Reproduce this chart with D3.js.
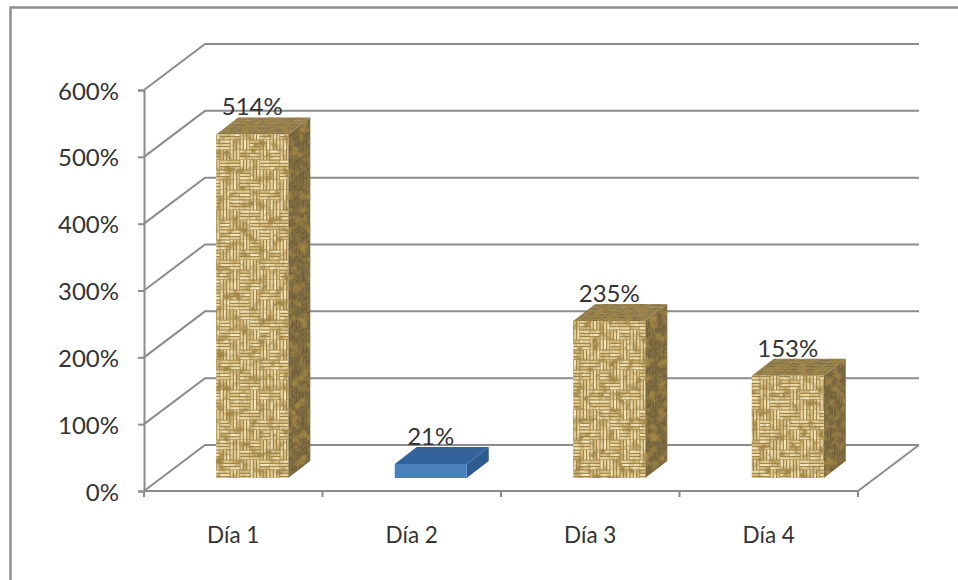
<!DOCTYPE html>
<html lang="es">
<head>
<meta charset="utf-8">
<title>Porcentaje por día</title>
<script src="https://cdnjs.cloudflare.com/ajax/libs/d3/7.8.5/d3.min.js"></script>
<style>
  html, body { margin: 0; padding: 0; background: #fff; }
  svg { display: block; }
  text { font-family: Lato, "Open Sans", sans-serif; fill: #333; }
</style>
</head>
<body>
<svg id="chart" width="958" height="580"></svg>
<script>
// Chart values
const categories = ["Día 1", "Día 2", "Día 3", "Día 4"];
const values = [514, 21, 235, 153];
const tickValues = [0, 100, 200, 300, 400, 500, 600];
const plainCategories = ["Día 2"];

// Weave layout: H = horizontal strands, V = vertical strands
const weaveRows = [
  "VVHHVHHVV",
  "VHHVVVHHV",
  "HHVVHVVHH",
  "VHHVHHVVH",
  "VVHHHVVHV",
  "HVVHVVHHV",
  "HHVVHHVVH",
  "VHVHHVHVV",
  "VVHHVVHHV",
  "HVVHVHHVH"
];
const strawTones = ["#f3e6bb", "#e3cd95", "#efdeae", "#d8bf84", "#ead7a2"];

const width = 958, height = 580;
const floorDx = 61, floorDy = 46;      // depth of the chart box
const barDx = 22, barDy = 17;          // depth of one bar
const barInsetX = 19, barInsetY = 13;  // bar offset from the front of the floor
const grey = "#8c8c8c";

const x = d3.scaleBand().domain(categories).range([144, 858]).paddingInner(0).paddingOuter(0);
const y = d3.scaleLinear().domain([0, 600]).range([491, 90]);
const barWidth = 72;

const svg = d3.select("#chart");
const defs = svg.append("defs");

// Straw texture tile, reused by every face of the woven bars
function weavePattern(id, transform, shade, shadeOpacity) {
  const block = 10, pitch = block / 3;
  const tileW = block * weaveRows[0].length, tileH = block * weaveRows.length;
  const p = defs.append("pattern")
    .attr("id", id)
    .attr("patternUnits", "userSpaceOnUse")
    .attr("width", tileW).attr("height", tileH)
    .attr("patternTransform", transform);
  p.append("rect").attr("width", tileW).attr("height", tileH).attr("fill", "#97793a");
  weaveRows.forEach((row, r) => {
    row.split("").forEach((o, c) => {
      d3.range(3).forEach(s => {
        const tone = strawTones[(r * 3 + c * 2 + s) % strawTones.length];
        const across = 2.3;
        const ox = c * block + (o === "V" ? s * pitch + 0.5 : 0);
        const oy = r * block + (o === "H" ? s * pitch + 0.5 : 0);
        // Strands run the full block so neighbouring blocks join into longer runs
        p.append("rect")
          .attr("x", ox).attr("y", oy)
          .attr("width", o === "H" ? block - 0.3 : across)
          .attr("height", o === "H" ? across : block - 0.3)
          .attr("fill", tone);
      });
    });
  });
  if (shadeOpacity > 0) {
    p.append("rect").attr("width", tileW).attr("height", tileH)
      .attr("fill", shade).attr("opacity", shadeOpacity);
  }
}
weavePattern("weaveFront", null, "#000", 0);
weavePattern("weaveSide", "matrix(0.42,-0.33,0,0.72,0,0)", "#35260a", 0.55);
weavePattern("weaveTop", "matrix(0.72,0,-0.58,0.46,0,0)", "#42310f", 0.42);

// Soft mottling over the straw
const mottle = defs.append("filter").attr("id", "mottle")
  .attr("x", 0).attr("y", 0).attr("width", 1).attr("height", 1);
mottle.append("feGaussianBlur").attr("in", "SourceGraphic").attr("stdDeviation", 0.75).attr("result", "soft");
mottle.append("feTurbulence").attr("type", "fractalNoise").attr("baseFrequency", 0.12)
  .attr("numOctaves", 3).attr("seed", 7).attr("result", "noise");
mottle.append("feColorMatrix").attr("in", "noise").attr("type", "matrix")
  .attr("values", "0 0 0 0 0.36  0 0 0 0 0.24  0 0 0 0 0.06  3 0 0 0 -1.35")
  .attr("result", "stain");
mottle.append("feComposite").attr("in", "stain").attr("in2", "soft").attr("operator", "in").attr("result", "clipped");
const merge = mottle.append("feMerge");
merge.append("feMergeNode").attr("in", "soft");
merge.append("feMergeNode").attr("in", "clipped");

// Outer frame: open at the right and bottom edges of the page
svg.append("path")
  .attr("d", d3.line()([[10.5, height], [10.5, 7.5], [width, 7.5]]))
  .attr("fill", "none").attr("stroke", grey).attr("stroke-width", 2.4);

// Back wall gridlines with the diagonals running along the side wall
const walls = svg.append("g").attr("fill", "none").attr("stroke", grey).attr("stroke-width", 2);
walls.selectAll(".grid").data(tickValues).join("path")
  .attr("class", "grid")
  .attr("d", v => d3.line()([
    [x.range()[0], y(v)],
    [x.range()[0] + floorDx, y(v) - floorDy],
    [x.range()[1] + floorDx, y(v) - floorDy]
  ]));

// Front edge and right edge of the floor
walls.append("path").attr("d", d3.line()([
  [x.range()[0], y(0)],
  [x.range()[1], y(0)],
  [x.range()[1] + floorDx, y(0) - floorDy]
]));

// Value axis
const yAxis = d3.axisLeft(y).tickValues(tickValues).tickFormat(d => d + "%").tickSize(6).tickPadding(19);
const yG = svg.append("g").attr("transform", `translate(${x.range()[0]},0)`).call(yAxis);
yG.selectAll("path, line").attr("stroke", grey).attr("stroke-width", 2);
yG.selectAll("text").attr("font-size", 24).attr("dy", "0.38em").style("font-family", "Lato, sans-serif").attr("fill", "#333");

// Category axis: ticks sit on the band boundaries
const xAxis = svg.append("g").attr("stroke", grey).attr("stroke-width", 2);
const bandEdges = categories.map(c => x(c)).concat(x.range()[1]);
xAxis.selectAll("line").data(bandEdges).join("line")
  .attr("x1", d => d).attr("x2", d => d)
  .attr("y1", y(0)).attr("y2", y(0) + 6);
svg.append("g").selectAll("text").data(categories).join("text")
  .attr("x", d => x(d) + x.bandwidth() / 2)
  .attr("y", 543)
  .attr("text-anchor", "middle")
  .attr("font-size", 22.5)
  .text(d => d);

// Bars: front, side and top faces
const bars = svg.append("g").selectAll("g").data(categories.map((c, i) => ({ c, v: values[i] }))).join("g");
const barLeft = d => x(d.c) + x.bandwidth() / 2 - barWidth / 2 + barInsetX;
const barBase = y(0) - barInsetY;
const barTop = d => barBase - (y(0) - y(d.v));
const polygon = pts => d3.line()(pts) + "Z";
const isPlain = d => plainCategories.includes(d.c);

bars.append("path")
  .attr("d", d => polygon([
    [barLeft(d) + barWidth, barBase], [barLeft(d) + barWidth + barDx, barBase - barDy],
    [barLeft(d) + barWidth + barDx, barTop(d) - barDy], [barLeft(d) + barWidth, barTop(d)]
  ]))
  .attr("fill", d => isPlain(d) ? "#2d5a90" : "url(#weaveSide)")
  .attr("filter", d => isPlain(d) ? null : "url(#mottle)");
bars.append("path")
  .attr("d", d => polygon([
    [barLeft(d), barTop(d)], [barLeft(d) + barDx, barTop(d) - barDy],
    [barLeft(d) + barWidth + barDx, barTop(d) - barDy], [barLeft(d) + barWidth, barTop(d)]
  ]))
  .attr("fill", d => isPlain(d) ? "#34639c" : "url(#weaveTop)")
  .attr("filter", d => isPlain(d) ? null : "url(#mottle)");
bars.append("rect")
  .attr("x", barLeft)
  .attr("y", barTop)
  .attr("width", barWidth)
  .attr("height", d => barBase - barTop(d))
  .attr("fill", d => isPlain(d) ? "#4a7fbd" : "url(#weaveFront)")
  .attr("filter", d => isPlain(d) ? null : "url(#mottle)");

// Value labels
bars.append("text")
  .attr("x", d => barLeft(d) + barWidth / 2)
  .attr("y", d => barTop(d) - 19)
  .attr("text-anchor", "middle")
  .attr("font-size", 24)
  .text(d => d.v + "%");
</script>
</body>
</html>
